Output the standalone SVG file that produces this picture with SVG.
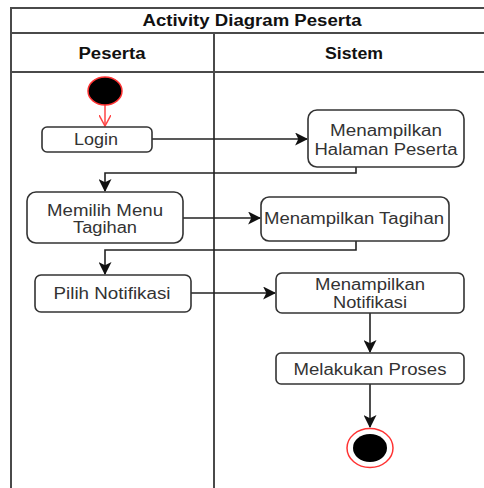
<svg xmlns="http://www.w3.org/2000/svg" width="484" height="488" viewBox="0 0 484 488">
  <style>
    .frame { fill: none; stroke: #4a4a4a; stroke-width: 2; }
    .act { fill: #ffffff; stroke: #333333; stroke-width: 1.6; }
    .lbl { font-family: "Liberation Sans", Arial, sans-serif; font-size: 16px; fill: #333333; text-anchor: middle; }
    .hdr { font-family: "Liberation Sans", Arial, sans-serif; font-size: 16px; font-weight: bold; fill: #111111; text-anchor: middle; }
    .flow { fill: none; stroke: #222222; stroke-width: 1.6; }
  </style>
  <defs>
    <marker id="arrow" viewBox="0 0 12 12" refX="11" refY="6" markerWidth="13" markerHeight="13" markerUnits="userSpaceOnUse" orient="auto">
      <path d="M0,0 L12,6 L0,12 L3,6 Z" fill="#111111"/>
    </marker>
    <marker id="arrowRed" viewBox="0 0 12 12" refX="11" refY="6" markerWidth="12" markerHeight="12" markerUnits="userSpaceOnUse" orient="auto">
      <path d="M0,0 L11,6 L0,12" fill="none" stroke="#ff4444" stroke-width="1.5"/>
    </marker>
  </defs>

  <rect width="484" height="488" fill="#ffffff"/>

  <!-- swimlane frame -->
  <g id="pool">
    <rect class="frame" x="11" y="8" width="484" height="490"/>
    <line class="frame" x1="11" y1="33" x2="495" y2="33"/>
    <line class="frame" x1="11" y1="72" x2="495" y2="72"/>
    <line class="frame" x1="214" y1="33" x2="214" y2="498"/>
    <text class="hdr" x="252" y="26" textLength="219" lengthAdjust="spacingAndGlyphs">Activity Diagram Peserta</text>
    <text class="hdr" x="112" y="59" textLength="67" lengthAdjust="spacingAndGlyphs">Peserta</text>
    <text class="hdr" x="354" y="59" textLength="58" lengthAdjust="spacingAndGlyphs">Sistem</text>
  </g>

  <!-- connectors -->
  <g id="connectors">
    <line x1="105" y1="105" x2="105" y2="126" fill="none" stroke="#ff4444" stroke-width="1.5" marker-end="url(#arrowRed)"/>
    <path class="flow" d="M152,139 H307" marker-end="url(#arrow)"/>
    <path class="flow" d="M356,167 V173 H105 V191" marker-end="url(#arrow)"/>
    <path class="flow" d="M183,218 H260" marker-end="url(#arrow)"/>
    <path class="flow" d="M356,241 V250 H105 V274" marker-end="url(#arrow)"/>
    <path class="flow" d="M191,293 H275" marker-end="url(#arrow)"/>
    <path class="flow" d="M370,313 V352" marker-end="url(#arrow)"/>
    <path class="flow" d="M370,384 V427" marker-end="url(#arrow)"/>
  </g>

  <g id="start">
    <ellipse cx="105" cy="91" rx="17" ry="14" fill="#000000" stroke="#ff3333" stroke-width="1.5"/>
  </g>

  <g id="login">
    <rect class="act" x="42" y="127" width="110" height="25" rx="5"/>
    <text class="lbl" x="96" y="145" textLength="44" lengthAdjust="spacingAndGlyphs">Login</text>
  </g>

  <g id="halaman-peserta">
    <rect class="act" x="308" y="110" width="156" height="57" rx="9"/>
    <text class="lbl" x="386" y="136" textLength="112" lengthAdjust="spacingAndGlyphs">Menampilkan</text>
    <text class="lbl" x="386" y="155" textLength="143" lengthAdjust="spacingAndGlyphs">Halaman Peserta</text>
  </g>

  <g id="memilih-menu">
    <rect class="act" x="27" y="192" width="156" height="51" rx="9"/>
    <text class="lbl" x="105" y="216" textLength="116" lengthAdjust="spacingAndGlyphs">Memilih Menu</text>
    <text class="lbl" x="105" y="233" textLength="64" lengthAdjust="spacingAndGlyphs">Tagihan</text>
  </g>

  <g id="tampil-tagihan">
    <rect class="act" x="261" y="197" width="188" height="44" rx="8"/>
    <text class="lbl" x="354" y="224" textLength="180" lengthAdjust="spacingAndGlyphs">Menampilkan Tagihan</text>
  </g>

  <g id="pilih-notifikasi">
    <rect class="act" x="35" y="275" width="156" height="37" rx="6"/>
    <text class="lbl" x="112" y="299" textLength="117" lengthAdjust="spacingAndGlyphs">Pilih Notifikasi</text>
  </g>

  <g id="tampil-notifikasi">
    <rect class="act" x="276" y="273" width="188" height="40" rx="6"/>
    <text class="lbl" x="370" y="290" textLength="110" lengthAdjust="spacingAndGlyphs">Menampilkan</text>
    <text class="lbl" x="370" y="308" textLength="74" lengthAdjust="spacingAndGlyphs">Notifikasi</text>
  </g>

  <g id="proses">
    <rect class="act" x="276" y="353" width="188" height="31" rx="5"/>
    <text class="lbl" x="370" y="375" textLength="153" lengthAdjust="spacingAndGlyphs">Melakukan Proses</text>
  </g>

  <g id="end">
    <ellipse cx="370" cy="448" rx="23" ry="19.5" fill="#ffffff" stroke="#ff3333" stroke-width="1.5"/>
    <ellipse cx="370" cy="448" rx="17" ry="14" fill="#000000"/>
  </g>
</svg>
